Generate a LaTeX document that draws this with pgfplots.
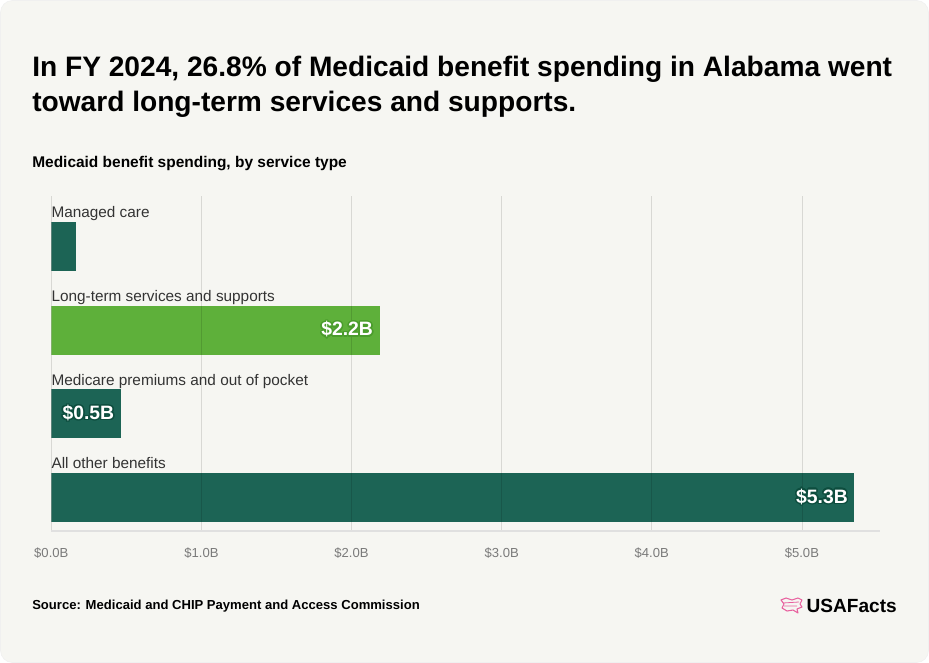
\documentclass[border=0pt]{standalone}
\usepackage{fontspec}
\setmainfont{Liberation Sans}
\usepackage{pgfplots}
\pgfplotsset{compat=1.18}
\usepackage{contour}
\contourlength{1.1pt}
\definecolor{bg}{HTML}{F6F6F2}
\definecolor{dkgreen}{HTML}{1C6455}
\definecolor{ltgreen}{HTML}{5EB03A}
\definecolor{dkhalo}{HTML}{0D4D3E}
\definecolor{lthalo}{HTML}{4A9C2C}
\definecolor{lbl}{HTML}{333333}
\definecolor{tick}{HTML}{7A7A7A}
\definecolor{logo}{HTML}{E8609E}
\begin{document}
\begin{tikzpicture}
\begin{scope}[x=0.75pt,y=-0.75pt]
\useasboundingbox (0,0) rectangle (929,663);
\fill[white] (0,0) rectangle (929,663);
\draw[fill=bg, draw=black!6, rounded corners=9pt] (0.5,0.5) rectangle (928.5,662.5);
\node[anchor=base west, inner sep=0, font=\bfseries\fontsize{21.1}{25}\selectfont] at (32,77) {In FY 2024, 26.8\% of Medicaid benefit spending in Alabama went};
\node[anchor=base west, inner sep=0, font=\bfseries\fontsize{21.1}{25}\selectfont] at (32,112) {toward long-term services and supports.};
\node[anchor=base west, inner sep=0, font=\bfseries\fontsize{11.6}{13}\selectfont] at (32,168) {Medicaid benefit spending, by service type};
\node[anchor=base west, inner sep=0, font=\bfseries\fontsize{9.8}{11}\selectfont] at (32,609) {Source: Medicaid and CHIP Payment and Access Commission};
\node[anchor=base east, inner sep=0, font=\bfseries\fontsize{14.3}{16}\selectfont] at (897,612) {USAFacts};
\draw[logo, line width=0.8pt, line join=round] (781,600) -- (786,598) -- (792,600) -- (798,598) -- (802,600) -- (800,604) -- (802,607) -- (797,609) -- (798,613) -- (793,610) -- (787,611) -- (782,608) -- (784,604) -- cycle;
\draw[logo, line width=0.6pt] (783,603) -- (799,602) (784,606) -- (797,606);
\end{scope}
\begin{axis}[
  at={(38.475pt,-398.25pt)}, anchor=south west,
  scale only axis, width=621.5pt, height=251.25pt,
  xbar, bar width=0.585, bar shift=0pt,
  xmin=0, xmax=5.52, ymin=-0.4, ymax=3.6,
  axis on top,
  axis x line*=bottom, axis y line*=left,
  x axis line style={draw=black!12, line width=0.8pt},
  y axis line style={draw=none},
  major tick length=0pt,
  xmajorgrids, grid style={black, opacity=0.12, line width=0.6pt},
  xtick={0,1,2,3,4,5},
  xticklabels={\$0.0B,\$1.0B,\$2.0B,\$3.0B,\$4.0B,\$5.0B},
  xticklabel style={anchor=base, yshift=-19.5pt, text=tick, font=\fontsize{9.8}{12}\selectfont},
  ytick={0,1,2,3},
  yticklabels={All other benefits, Medicare premiums and out of pocket, Long-term services and supports, Managed care},
  yticklabel style={anchor=base west, inner xsep=0pt, xshift=0pt, yshift=21.4pt, text=lbl, font=\fontsize{11.5}{13}\selectfont},
]
\addplot[fill=dkgreen, draw=none, bar shift=0pt] coordinates {(0.166,3)};
\addplot[fill=ltgreen, draw=none, bar shift=0pt,
  nodes near coords={\contour{lthalo}{\$2.2B}},
  every node near coord/.append style={anchor=east, xshift=-1.5pt, text=white, font=\bfseries\fontsize{14.5}{16}\selectfont}] coordinates {(2.187,2)};
\addplot[fill=dkgreen, draw=none, bar shift=0pt,
  nodes near coords={\contour{dkhalo}{\$0.5B}},
  every node near coord/.append style={anchor=east, xshift=-1.5pt, text=white, font=\bfseries\fontsize{14.5}{16}\selectfont}] coordinates {(0.463,1)};
\addplot[fill=dkgreen, draw=none, bar shift=0pt,
  nodes near coords={\contour{dkhalo}{\$5.3B}},
  every node near coord/.append style={anchor=east, xshift=-1.5pt, text=white, font=\bfseries\fontsize{14.5}{16}\selectfont}] coordinates {(5.35,0)};
\end{axis}
\end{tikzpicture}
\end{document}
